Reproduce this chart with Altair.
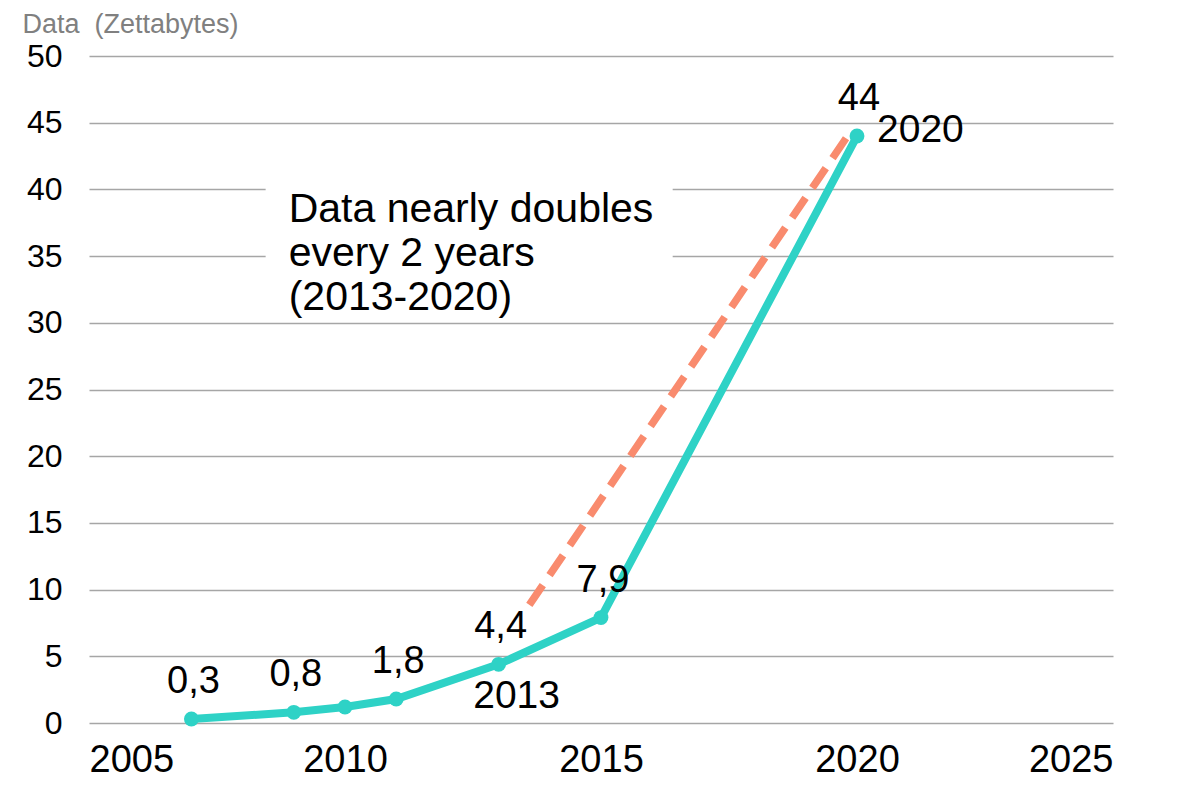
import altair as alt
import pandas as pd

# Data
years = [2007, 2009, 2010, 2011, 2013, 2015, 2020]
zettabytes = [0.3, 0.8, 1.2, 1.8, 4.4, 7.9, 44]
value_labels = ["0,3", "0,8", "", "1,8", "4,4", "7,9", "44"]

trend_years = [2013.6, 2019.85]
trend_values = [8.85, 44.2]

year_label_years = [2013, 2020]
year_label_values = [4.4, 44]
year_label_text = ["2013", "2020"]

note_text = "Data nearly doubles\nevery 2 years\n(2013-2020)"
note_box_x = [2008.45, 2016.4]
note_box_y = [30.4, 41.5]
note_anchor = [2008.9, 37.55]

x_ticks = [2005, 2010, 2015, 2020, 2025]
y_ticks = [0, 5, 10, 15, 20, 25, 30, 35, 40, 45, 50]

df = pd.DataFrame({"year": years, "value": zettabytes, "label": value_labels})
trend = pd.DataFrame({"year": trend_years, "value": trend_values})
ylab = pd.DataFrame({"year": year_label_years, "value": year_label_values, "text": year_label_text})
box = pd.DataFrame({"x": [note_box_x[0]], "x2": [note_box_x[1]], "y": [note_box_y[0]], "y2": [note_box_y[1]]})
note = pd.DataFrame({"x": [note_anchor[0]], "y": [note_anchor[1]], "text": [note_text]})

xscale = alt.Scale(domain=[2005, 2025], nice=False, zero=False)
yscale = alt.Scale(domain=[0, 50], nice=False)

xaxis = alt.Axis(values=x_ticks, format="d", grid=False, domain=False, ticks=False,
                 labelFontSize=38, labelColor="black", labelPadding=18, title=None,
                 labelFont="Liberation Sans")
yaxis = alt.Axis(values=y_ticks, grid=True, gridColor="#a6a6a6", gridWidth=1.6,
                 domain=False, ticks=False, labelFontSize=32, labelColor="black",
                 labelPadding=27, labelFont="Liberation Sans",
                 title="Data\u00a0 (Zettabytes)", titleAngle=0, titleAlign="left",
                 titleBaseline="alphabetic", titleX=-67, titleY=-23.5, titleFontSize=27,
                 titleColor="#808080", titleFontWeight="normal", titleFont="Liberation Sans")


def X(field):
    return alt.X(field, scale=xscale, axis=xaxis)


def Y(field):
    return alt.Y(field, scale=yscale, axis=yaxis)


rect = alt.Chart(box).mark_rect(color="white").encode(
    x=X("x:Q"), x2="x2:Q", y=Y("y:Q"), y2="y2:Q",
)

note_mark = alt.Chart(note).mark_text(
    align="left", baseline="alphabetic", fontSize=41, lineHeight=44,
    lineBreak="\n", color="black", font="Liberation Sans"
).encode(x=X("x:Q"), y=Y("y:Q"), text="text:N")

trend_line = alt.Chart(trend).mark_line(
    color="#f98b6e", strokeWidth=7.5, strokeDash=[24, 12]
).encode(x=X("year:Q"), y=Y("value:Q"))

base = alt.Chart(df).encode(x=X("year:Q"), y=Y("value:Q"))
line = base.mark_line(color="#2ed2c6", strokeWidth=8)
points = base.mark_point(filled=True, size=220, color="#2ed2c6", opacity=1)
labels = base.mark_text(fontSize=38, dx=2, dy=-37, color="black",
                        font="Liberation Sans").encode(text="label:N")

ylabel_2013 = alt.Chart(ylab.iloc[[0]]).mark_text(
    fontSize=39, dx=18, dy=32, color="black", font="Liberation Sans"
).encode(x=X("year:Q"), y=Y("value:Q"), text="text:N")
ylabel_2020 = alt.Chart(ylab.iloc[[1]]).mark_text(
    fontSize=39, dx=20, dy=-6, align="left", color="black", font="Liberation Sans"
).encode(x=X("year:Q"), y=Y("value:Q"), text="text:N")

chart = alt.layer(
    rect, note_mark, trend_line, line, points, labels,
    ylabel_2013, ylabel_2020
).properties(
    width=1024, height=667,
    autosize=alt.AutoSizeParams(type="none"),
    padding={"left": 81, "top": 48, "right": 56, "bottom": 58},
).configure(font="Liberation Sans").configure_view(strokeWidth=0, stroke="transparent")

chart.save("out.html", embed_options={"renderer": "svg", "actions": False})
